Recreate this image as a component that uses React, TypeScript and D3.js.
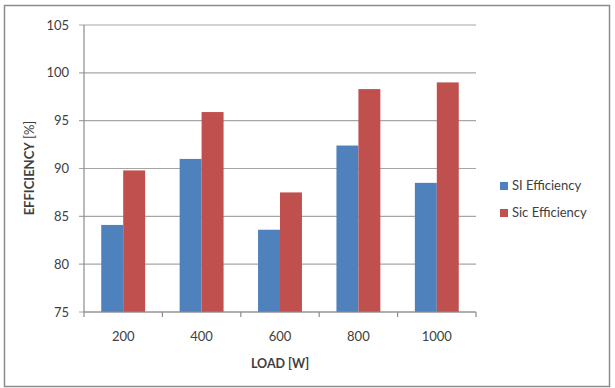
import React from 'react';
import * as d3 from 'd3';

// data
const loads = ['200', '400', '600', '800', '1000'];
const siEfficiency = [84.1, 91.0, 83.6, 92.4, 88.5];
const sicEfficiency = [89.8, 95.9, 87.5, 98.3, 99.0];
const seriesNames = ['SI Efficiency', 'Sic Efficiency'];
const yTicks = [75, 80, 85, 90, 95, 100, 105];

const W = 615;
const H = 388;
const colors = ['#4f81bd', '#c0504d'];
const font = 'Lato, "Open Sans", sans-serif';

export default function App() {
  const plot = { left: 84, right: 476, top: 25, bottom: 312 };

  const x = d3.scaleBand<string>()
    .domain(loads)
    .range([plot.left, plot.right])
    .paddingInner(0.44)
    .paddingOuter(0.22);

  const inner = d3.scaleBand<number>()
    .domain([0, 1])
    .range([0, x.bandwidth()]);

  const y = d3.scaleLinear()
    .domain([75, 105])
    .range([plot.bottom, plot.top]);

  const series = [siEfficiency, sicEfficiency];
  const step = (plot.right - plot.left) / loads.length;
  const boundaries = d3.range(loads.length + 1).map(i => plot.left + i * step);

  return (
    <svg width={W} height={H} style={{ position: 'absolute', left: 0, top: 0, background: '#fff' }}>
      <rect x={4.5} y={5.5} width={605} height={381} fill="#fff" stroke="#8c8c8c" strokeWidth={1.5} />

      {/* gridlines */}
      {yTicks.map(t => (
        <line key={'g' + t} x1={plot.left - 5} x2={plot.right} y1={y(t)} y2={y(t)}
          stroke="#a6a6a6" strokeWidth={1.2} />
      ))}
      {yTicks.map(t => (
        <text key={'l' + t} x={69} y={y(t)} dy="0.35em" textAnchor="end"
          fontFamily={font} fontSize={13} fill="#404040">{t}</text>
      ))}

      {/* bars */}
      {series.map((vals, si) => vals.map((v, i) => (
        <rect key={si + '-' + i}
          x={(x(loads[i]) as number) + (inner(si) as number)}
          y={y(v)}
          width={inner.bandwidth()}
          height={y(75) - y(v)}
          fill={colors[si]} />
      )))}

      {/* axes */}
      <line x1={plot.left} x2={plot.left} y1={plot.top} y2={plot.bottom} stroke="#8c8c8c" strokeWidth={1.2} />
      <line x1={plot.left} x2={plot.right} y1={plot.bottom} y2={plot.bottom} stroke="#8c8c8c" strokeWidth={1.2} />
      {boundaries.map((b, i) => (
        <line key={'t' + i} x1={b} x2={b} y1={plot.bottom} y2={plot.bottom + 5} stroke="#8c8c8c" strokeWidth={1.2} />
      ))}
      {loads.map(l => (
        <text key={'x' + l} x={(x(l) as number) + x.bandwidth() / 2} y={341} textAnchor="middle"
          fontFamily={font} fontSize={13} fill="#404040">{l}</text>
      ))}

      <text x={280} y={368} textAnchor="middle" fontFamily={font} fontSize={12.5} fontWeight="bold" fill="#404040">LOAD [W]</text>
      <text transform="translate(34,168) rotate(-90)" textAnchor="middle" fontFamily={font} fontSize={13} fill="#404040">
        <tspan fontWeight="bold">EFFICIENCY</tspan> [%]
      </text>

      {/* legend */}
      {seriesNames.map((n, i) => (
        <g key={n} transform={`translate(500,${182 + i * 27})`}>
          <rect x={0} y={0} width={8} height={8} fill={colors[i]} />
          <text x={12} y={8} fontFamily={font} fontSize={13} fill="#404040">{n}</text>
        </g>
      ))}
    </svg>
  );
}
